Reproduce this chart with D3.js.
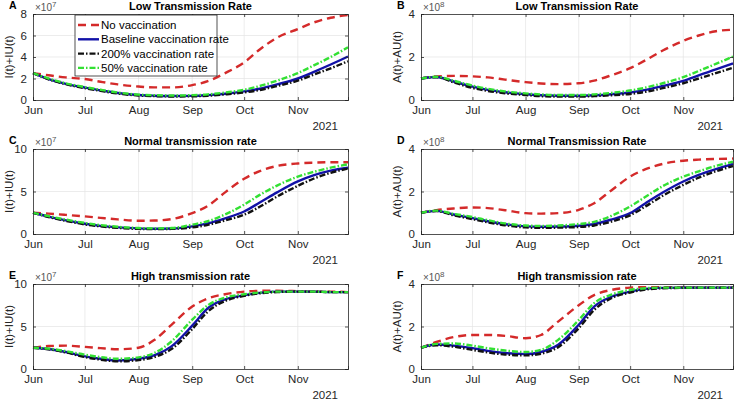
<!DOCTYPE html>
<html><head><meta charset="utf-8">
<script src="https://cdn.jsdelivr.net/npm/d3@7"></script>
<style>body{margin:0;background:#fff}svg{display:block;font-family:"Liberation Sans",Arial,sans-serif}</style>
</head><body><svg id="c" width="743" height="401"></svg>
<script>
// ---- data ----
const dates = ["2021-06-01","2021-06-10","2021-06-20","2021-07-01","2021-07-10","2021-07-20","2021-08-01","2021-08-10","2021-08-20","2021-09-01","2021-09-10","2021-09-20","2021-10-01","2021-10-10","2021-10-20","2021-11-01","2021-11-10","2021-11-20","2021-11-30"];
const seriesNames = ["No vaccination","Baseline vaccination rate","200% vaccination rate","50% vaccination rate"];
const panelLetters = ["A","B","C","D","E","F"];
const panelTitles = ["Low Transmission Rate","Low Transmission Rate","Normal transmission rate","Normal Transmission Rate","High transmission rate","High transmission rate"];
const yLabels = ["I(t)+IU(t)","A(t)+AU(t)","I(t)+IU(t)","A(t)+AU(t)","I(t)+IU(t)","A(t)+AU(t)"];
const yExponents = [7,8,7,8,7,8];
const yMax = [8,4,10,4,10,4];
const yTicks = [[0,2,4,6,8],[0,2,4],[0,5,10],[0,2,4],[0,5,10],[0,2,4]];
const monthLabels = ["Jun","Jul","Aug","Sep","Oct","Nov"];
const yearLabel = "2021";

// values in units of 10^exponent; order: No vaccination, Baseline, 200%, 50%
const A_none  = [2.5,2.3,2.1,1.95,1.7,1.45,1.25,1.17,1.17,1.38,1.75,2.5,3.5,4.7,5.8,6.6,7.2,7.65,7.9];
const A_base  = [2.5,1.95,1.5,1.15,0.9,0.65,0.46,0.4,0.37,0.38,0.45,0.58,0.8,1.05,1.45,2.0,2.6,3.3,4.05];
const A_200   = [2.5,1.93,1.47,1.1,0.85,0.6,0.42,0.36,0.33,0.34,0.4,0.52,0.7,0.93,1.3,1.8,2.35,2.95,3.6];
const A_50    = [2.5,2.0,1.55,1.2,0.95,0.7,0.5,0.45,0.42,0.45,0.52,0.7,0.95,1.3,1.8,2.5,3.2,4.0,4.9];

const B_none  = [1.0,1.1,1.12,1.1,1.05,0.95,0.83,0.77,0.74,0.78,0.9,1.15,1.48,1.85,2.3,2.75,3.0,3.2,3.27];
const B_base  = [1.0,1.07,0.86,0.62,0.47,0.36,0.27,0.22,0.2,0.2,0.22,0.27,0.35,0.47,0.65,0.89,1.15,1.42,1.7];
const B_200   = [1.0,1.06,0.82,0.56,0.42,0.31,0.23,0.18,0.16,0.16,0.18,0.22,0.28,0.38,0.55,0.78,1.0,1.25,1.5];
const B_50    = [1.0,1.08,0.9,0.67,0.52,0.4,0.31,0.26,0.23,0.23,0.26,0.33,0.44,0.58,0.78,1.06,1.35,1.68,2.02];

const C_none  = [2.5,2.4,2.25,2.07,1.9,1.72,1.56,1.58,1.75,2.46,3.3,4.9,6.5,7.4,8.0,8.3,8.4,8.45,8.45];
const C_base  = [2.5,2.05,1.6,1.2,0.95,0.78,0.66,0.62,0.65,0.9,1.25,1.85,2.65,3.7,4.9,6.2,6.9,7.45,7.8];
const C_200   = [2.5,2.0,1.55,1.13,0.9,0.72,0.6,0.57,0.6,0.78,1.08,1.6,2.27,3.2,4.4,5.66,6.5,7.2,7.7];
const C_50    = [2.5,2.1,1.7,1.3,1.05,0.85,0.7,0.66,0.7,1.1,1.5,2.3,3.45,4.6,5.7,6.75,7.3,7.8,8.2];

const D_none  = [1.0,1.12,1.2,1.25,1.22,1.12,0.98,0.96,0.98,1.14,1.45,2.05,2.7,3.05,3.3,3.45,3.5,3.53,3.55];
const D_base  = [1.0,1.09,0.92,0.75,0.6,0.46,0.36,0.34,0.35,0.39,0.47,0.68,0.98,1.45,1.95,2.47,2.78,3.05,3.3];
const D_200   = [1.0,1.08,0.88,0.7,0.55,0.41,0.31,0.29,0.3,0.33,0.4,0.58,0.88,1.3,1.8,2.31,2.65,2.95,3.2];
const D_50    = [1.0,1.1,0.95,0.8,0.65,0.5,0.4,0.38,0.4,0.47,0.57,0.85,1.3,1.75,2.25,2.7,2.95,3.2,3.4];

const E_none  = [2.5,2.7,2.75,2.6,2.45,2.32,2.5,3.4,5.2,7.35,8.3,8.8,9.1,9.2,9.2,9.15,9.1,9.1,9.05];
const E_base  = [2.5,2.35,2.0,1.48,1.2,1.0,1.2,1.6,2.66,5.1,7.15,8.2,8.67,8.95,9.1,9.1,9.1,9.05,9.05];
const E_200   = [2.5,2.33,1.95,1.4,1.1,0.9,1.05,1.4,2.34,4.7,6.75,8.0,8.6,8.9,9.05,9.1,9.1,9.05,9.05];
const E_50    = [2.5,2.4,2.1,1.68,1.4,1.2,1.37,1.87,3.24,5.8,7.5,8.4,8.8,9.0,9.1,9.1,9.1,9.05,9.05];

const F_none  = [1.0,1.27,1.5,1.6,1.6,1.56,1.45,1.6,2.23,3.0,3.48,3.72,3.83,3.85,3.85,3.84,3.83,3.83,3.83];
const F_base  = [1.0,1.15,1.1,0.98,0.85,0.75,0.7,0.8,1.14,2.08,2.94,3.4,3.64,3.77,3.82,3.83,3.83,3.83,3.83];
const F_200   = [1.0,1.12,1.05,0.9,0.78,0.68,0.64,0.72,1.03,1.92,2.78,3.33,3.6,3.74,3.8,3.82,3.83,3.83,3.83];
const F_50    = [1.0,1.18,1.2,1.1,0.98,0.87,0.8,0.9,1.37,2.3,3.1,3.5,3.72,3.8,3.83,3.83,3.83,3.83,3.83];

const panelData = [
  [A_none,A_base,A_200,A_50],[B_none,B_base,B_200,B_50],
  [C_none,C_base,C_200,C_50],[D_none,D_base,D_200,D_50],
  [E_none,E_base,E_200,E_50],[F_none,F_base,F_200,F_50]
];

// ---- styles ----
const styles = [
  {color:"#d42a2a", dash:"8,5", w:2.4},
  {color:"#1212a8", dash:null, w:2.4},
  {color:"#111111", dash:"6,2,1.5,2", w:2.4},
  {color:"#33e033", dash:"6,2,1.5,2", w:2.4}
];
const lefts=[33,421], rights=[348,733], tops=[14,149,284], bottoms=[100,234,369];

const parse = d3.timeParse("%Y-%m-%d");
const dts = dates.map(parse);
const svg = d3.select("#c");

panelData.forEach((series,i)=>{
  const col=i%2,row=Math.floor(i/2);
  const L=lefts[col],R=rights[col],T=tops[row],B=bottoms[row];
  const x=d3.scaleTime().domain([dts[0],dts[dts.length-1]]).range([L,R]);
  const y=d3.scaleLinear().domain([0,yMax[i]]).range([B,T]);
  const g=svg.append("g");
  const months=d3.timeMonth.range(dts[0],dts[dts.length-1]);
  // grid
  g.selectAll(".gx").data(months.slice(1)).join("line")
    .attr("x1",d=>x(d)).attr("x2",d=>x(d)).attr("y1",T).attr("y2",B)
    .attr("stroke","#e4e4e4").attr("stroke-width",0.7);
  g.selectAll(".gy").data(yTicks[i].slice(1,-1)).join("line")
    .attr("x1",L).attr("x2",R).attr("y1",d=>y(d)).attr("y2",d=>y(d))
    .attr("stroke","#e4e4e4").attr("stroke-width",0.7);
  // lines
  const line=d3.line().x((d,k)=>x(dts[k])).y(d=>y(d)).curve(d3.curveMonotoneX);
  series.forEach((s,k)=>{
    g.append("path").attr("d",line(s)).attr("fill","none")
      .attr("stroke",styles[k].color).attr("stroke-width",styles[k].w)
      .attr("stroke-dasharray",styles[k].dash);
  });
  // axes (ticks inward)
  const xb=d3.axisBottom(x).tickValues(months).tickSize(-3).tickPadding(6)
    .tickFormat((d,k)=>monthLabels[k]);
  const gx=g.append("g").attr("transform",`translate(0,${B})`).call(xb);
  const xt=d3.axisTop(x).tickValues(months).tickSize(-3).tickFormat("");
  const gxt=g.append("g").attr("transform",`translate(0,${T})`).call(xt);
  const yl=d3.axisLeft(y).tickValues(yTicks[i]).tickSize(-3).tickPadding(6).tickFormat(d3.format("d"));
  const gy=g.append("g").attr("transform",`translate(${L},0)`).call(yl);
  const yr=d3.axisRight(y).tickValues(yTicks[i]).tickSize(-3).tickFormat("");
  const gyr=g.append("g").attr("transform",`translate(${R},0)`).call(yr);
  [gx,gxt,gy,gyr].forEach(a=>{
    a.select(".domain").attr("stroke","#262626").attr("stroke-width",0.8);
    a.selectAll(".tick line").attr("stroke","#262626").attr("stroke-width",0.8);
    a.selectAll("text").attr("fill","#262626").attr("font-size",11.5).attr("font-family","Liberation Sans, Arial, sans-serif");
  });
  gx.selectAll("text").attr("dy","0.71em");
  // year
  g.append("text").attr("x",R-10).attr("y",B+30).attr("text-anchor","end")
    .attr("font-size",11.5).attr("fill","#262626").text(yearLabel);
  // title
  g.append("text").attr("x",(L+R)/2).attr("y",T-4).attr("text-anchor","middle")
    .attr("font-size",11).attr("font-weight","bold").attr("fill","#000").text(panelTitles[i]);
  // letter
  g.append("text").attr("x",L-24).attr("y",T-5).attr("font-size",10.5).attr("font-weight","bold").text(panelLetters[i]);
  // exponent
  const ex=g.append("text").attr("x",L+2).attr("y",T-3).attr("font-size",10).attr("fill","#555");
  ex.append("tspan").text("\u00d710");
  ex.append("tspan").attr("dy",-4).attr("font-size",8).text(yExponents[i]);
  // y label
  g.append("text").attr("transform",`translate(${L-20},${(T+B)/2}) rotate(-90)`)
    .attr("text-anchor","middle").attr("font-size",11.5).attr("fill","#262626").text(yLabels[i]);
});

// legend in panel A
const lg=svg.append("g");
lg.append("rect").attr("x",75).attr("y",15).attr("width",142).attr("height",61)
  .attr("fill","#fff").attr("stroke","#262626").attr("stroke-width",0.8);
seriesNames.forEach((n,k)=>{
  const yy=25+k*14.3;
  lg.append("line").attr("x1",78).attr("x2",99).attr("y1",yy).attr("y2",yy)
    .attr("stroke",styles[k].color).attr("stroke-width",styles[k].w).attr("stroke-dasharray",styles[k].dash);
  lg.append("text").attr("x",101).attr("y",yy).attr("dy","0.35em").attr("font-size",11.5)
    .attr("fill","#000").text(n);
});
</script></body></html>
